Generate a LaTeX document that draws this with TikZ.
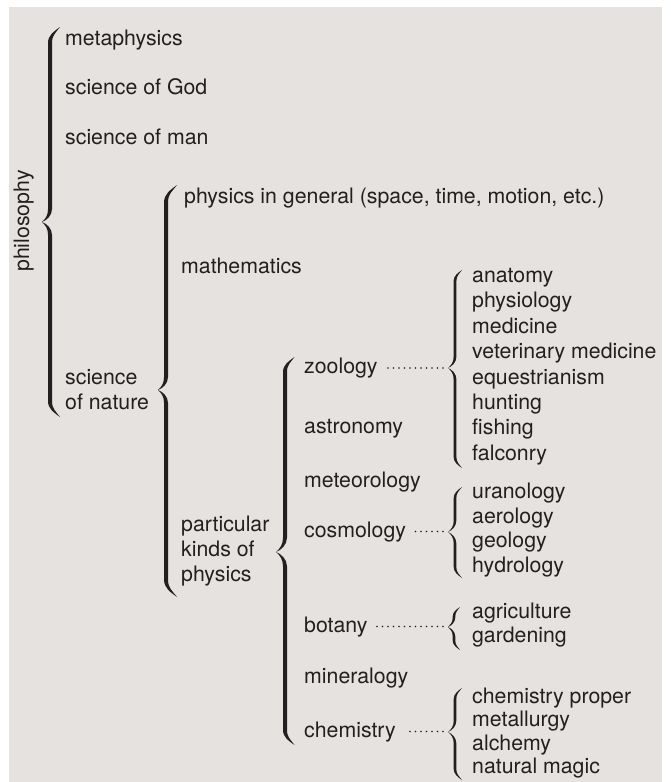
\documentclass[tikz,border=0pt]{standalone}
\usepackage{fontspec}
\setmainfont{TeX Gyre Heros}
\usepackage{xcolor}
\usepackage{tikz}
\definecolor{panel}{RGB}{230,226,223}
\definecolor{ink}{RGB}{35,31,32}
% stem x, top y, tip y, bottom y, tip depth, curl, half width
\newcommand{\curly}[7]{%
  \fill[bracefill]
    ({#1+#6},{#2})
      .. controls ({#1+0.5*#6-0.4*#7},{#2+0.5*#6-0.4*#7}) and ({#1-#7},{#2+0.8*#6}) .. ({#1-#7},{#2+1.6*#6})
      -- ({#1-#7},{#3-1.6*#5})
      .. controls ({#1-#7},{#3-0.8*#5}) and ({#1-0.5*#5-0.3*#7},{#3-0.3*#5-0.4*#7}) .. ({#1-#5},{#3})
      .. controls ({#1-0.5*#5-0.3*#7},{#3+0.3*#5+0.4*#7}) and ({#1-#7},{#3+0.8*#5}) .. ({#1-#7},{#3+1.6*#5})
      -- ({#1-#7},{#4-1.6*#6})
      .. controls ({#1-#7},{#4-0.8*#6}) and ({#1+0.5*#6-0.4*#7},{#4-0.5*#6+0.4*#7}) .. ({#1+#6},{#4})
      .. controls ({#1+0.5*#6+0.4*#7},{#4-0.5*#6-0.4*#7}) and ({#1+#7},{#4-0.8*#6}) .. ({#1+#7},{#4-1.6*#6})
      -- ({#1+#7},{#3+1.6*#5})
      .. controls ({#1+#7},{#3+0.8*#5}) and ({#1-0.5*#5+0.3*#7},{#3+0.3*#5-0.4*#7}) .. ({#1-#5},{#3})
      .. controls ({#1-0.5*#5+0.3*#7},{#3-0.3*#5+0.4*#7}) and ({#1+#7},{#3-0.8*#5}) .. ({#1+#7},{#3-1.6*#5})
      -- ({#1+#7},{#2+1.6*#6})
      .. controls ({#1+#7},{#2+0.8*#6}) and ({#1+0.5*#6+0.4*#7},{#2+0.5*#6+0.4*#7}) .. ({#1+#6},{#2})
      -- cycle;}

\begin{document}
\begin{tikzpicture}[x=1pt,y=-1pt,
  item/.style={anchor=base west,inner sep=0pt,text=ink,font=\fontsize{21.3}{25}\selectfont},
  leader/.style={draw=ink,line width=1.8pt,line cap=round,dash pattern=on 0pt off 5.5pt},
  bracefill/.style={fill=ink}]
  % Panel
  \fill[white] (0,0) rectangle (670,782);
  \fill[panel] (9,7) rectangle (662,782);
  \useasboundingbox (0,0) rectangle (670,782);

  % Philosophy
  \node[item,rotate=90,anchor=base] (philo) at (29,221) {philosophy};
  \curly{50}{27}{222}{417}{8}{10}{2}
  \node[item] (meta) at (65,45) {metaphysics};
  \node[item] (god) at (65,94) {science of God};
  \node[item] (man) at (65,144) {science of man};
  \node[item,align=left] (nature) at (65,409) {science\\of nature};

  % Science of nature
  \curly{166}{185}{390}{597}{8}{11}{2}
  \node[item] (general) at (184,203) {physics in general (space, time, motion, etc.)};
  \node[item] (math) at (181,273) {mathematics};
  \node[item,align=left] (particular) at (181,581) {particular\\kinds of\\physics};

  % Particular kinds of physics
  \curly{285}{357}{552}{745}{9}{9.5}{2}
  \node[item] (zoology) at (304,373.5) {zoology};
  \node[item] (astronomy) at (304,433) {astronomy};
  \node[item] (meteorology) at (304,487) {meteorology};
  \node[item] (cosmology) at (304,537) {cosmology};
  \node[item] (botany) at (304,632) {botany};
  \node[item] (mineralogy) at (304,683) {mineralogy};
  \node[item] (chemistry) at (304,737) {chemistry};

  % Sub-lists
  \curly{455}{270}{368}{468}{7}{7}{1.4}
  \foreach \t [count=\i from 0] in {anatomy,physiology,medicine,veterinary medicine,equestrianism,hunting,fishing,falconry}
    \node[item] (zoo\i) at (472,{282.5+25.4*\i}) {\t};
  \curly{455}{487}{532}{578}{7}{7}{1.3}
  \foreach \t [count=\i from 0] in {uranology,aerology,geology,hydrology}
    \node[item] (cosmo\i) at (472,{498.5+24.7*\i}) {\t};
  \curly{454}{607}{627}{650}{6}{6}{1.3}
  \foreach \t [count=\i from 0] in {agriculture,gardening}
    \node[item] (bot\i) at (472,{618.5+24*\i}) {\t};
  \curly{455}{688}{732}{780}{7}{7}{1.3}
  \foreach \t [count=\i from 0] in {chemistry proper,metallurgy,alchemy,natural magic}
    \node[item] (chem\i) at (472,{703.5+23.4*\i}) {\t};

  % Leaders
  \coordinate (zootip) at (443,368);
  \coordinate (cosmotip) at (443,532);
  \coordinate (bottip) at (443,627);
  \coordinate (chemtip) at (443,732);
  \draw[leader] (zoology.east -| zootip) -- ([xshift=9pt]zoology.east);
  \draw[leader] (cosmology.east -| cosmotip) -- ([xshift=9pt]cosmology.east);
  \draw[leader] (botany.east -| bottip) -- ([xshift=9pt]botany.east);
  \draw[leader] (chemistry.east -| chemtip) -- ([xshift=9pt]chemistry.east);
\end{tikzpicture}
\end{document}
